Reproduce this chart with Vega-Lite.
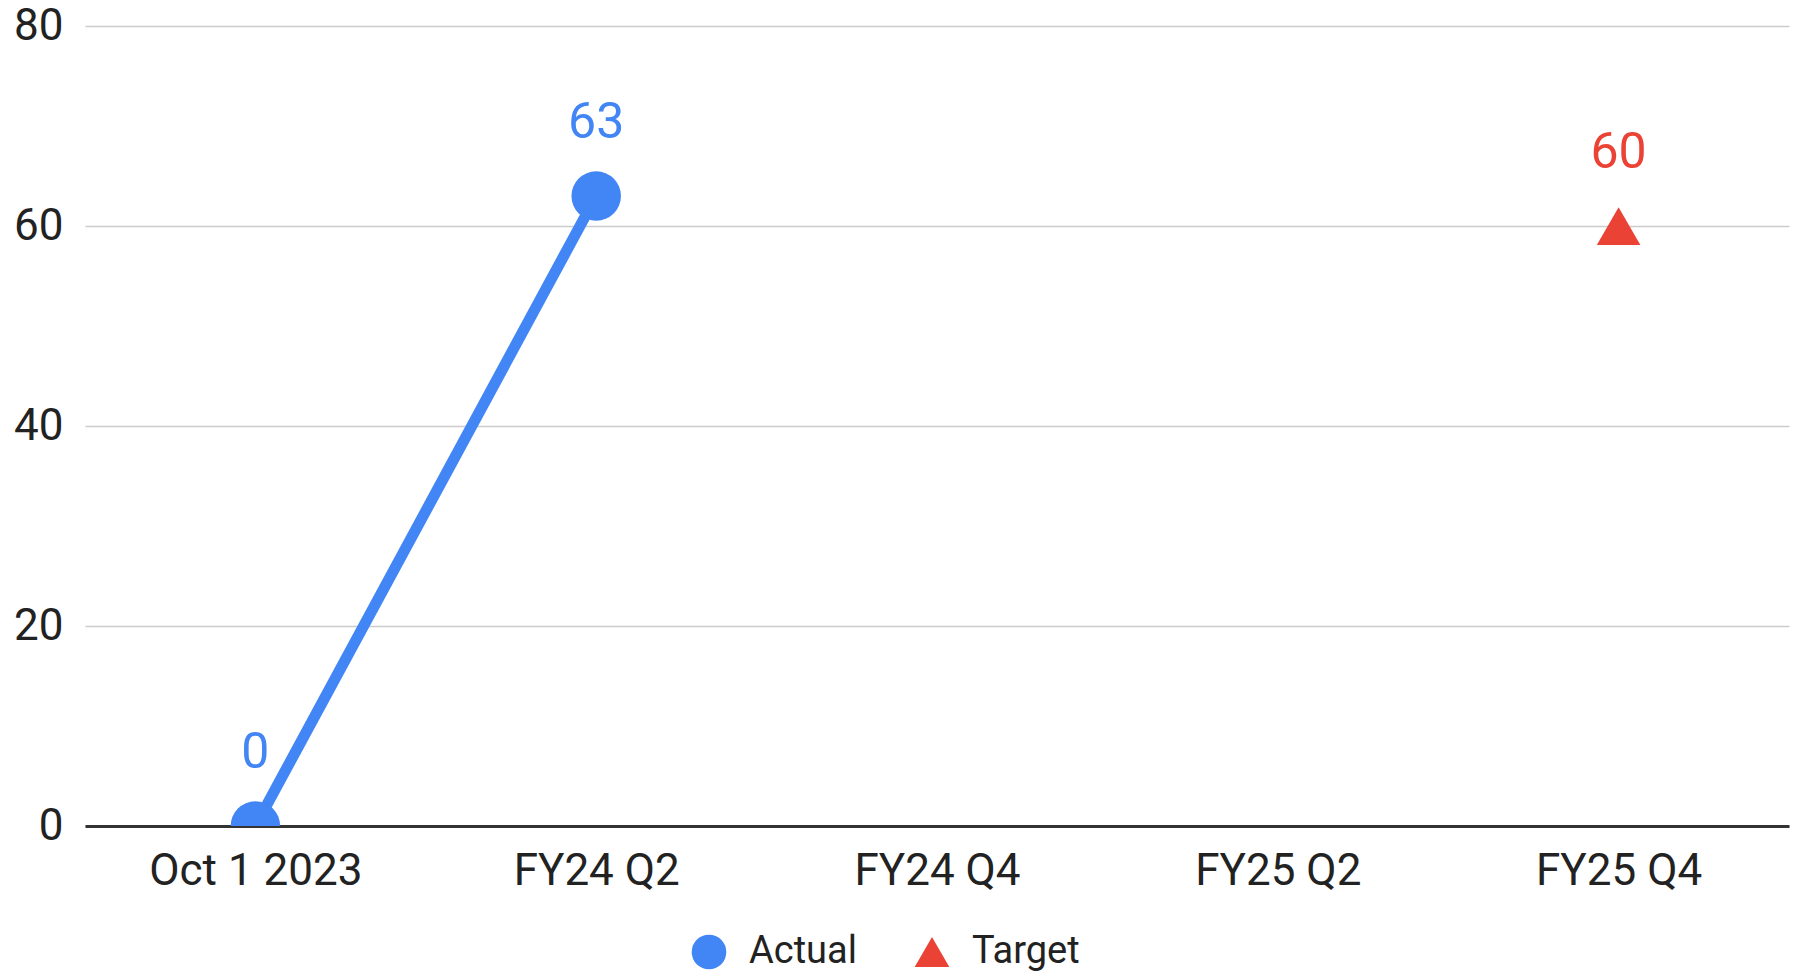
{
  "$schema": "https://vega.github.io/schema/vega-lite/v6.json",
  "autosize": "none",
  "width": 1704,
  "height": 800,
  "padding": {"left": 85, "top": 26, "right": 17, "bottom": 147},
  "background": "white",
  "config": {
    "font": "Roboto",
    "view": {"stroke": null},
    "axis": {"labelFont": "Roboto", "labelColor": "#222222", "labelFontSize": 44, "title": null, "labelLimit": 0}
  },
  "data": {
    "values": [
      {"period": "Oct 1 2023", "series": "Actual", "value": 0},
      {"period": "FY24 Q2", "series": "Actual", "value": 63},
      {"period": "FY25 Q4", "series": "Target", "value": 60}
    ]
  },
  "encoding": {
    "x": {
      "field": "period",
      "type": "ordinal",
      "sort": null,
      "scale": {"domain": ["Oct 1 2023", "FY24 Q2", "FY24 Q4", "FY25 Q2", "FY25 Q4"], "paddingOuter": 0.5, "paddingInner": 0},
      "axis": {"labelAngle": 0, "ticks": false, "domain": true, "domainColor": "#333333", "domainWidth": 3, "labelPadding": 23, "grid": false}
    },
    "y": {
      "field": "value",
      "type": "quantitative",
      "scale": {"domain": [0, 80], "nice": false},
      "axis": {"values": [0, 20, 40, 60, 80], "ticks": false, "domain": false, "gridColor": "#cccccc", "gridWidth": 1.5, "labelPadding": 22}
    },
    "color": {
      "field": "series",
      "type": "nominal",
      "scale": {"domain": ["Actual", "Target"], "range": ["#4285F4", "#EA4335"]},
      "legend": {
        "title": null,
        "orient": "none",
        "direction": "horizontal",
        "legendX": 605,
        "legendY": 907,
        "labelFont": "Roboto",
        "labelFontSize": 38,
        "labelColor": "#222222",
        "symbolSize": 1200,
        "labelOffset": 21,
        "columnPadding": 56
      }
    }
  },
  "layer": [
    {
      "transform": [{"filter": "datum.series === 'Actual'"}],
      "mark": {"type": "line", "color": "#4285F4", "strokeWidth": 11, "clip": true},
      "encoding": {"color": {"value": "#4285F4"}}
    },
    {
      "transform": [{"filter": "datum.series === 'Actual'"}],
      "mark": {"type": "point", "filled": true, "opacity": 1, "clip": true, "size": 2450},
      "encoding": {
        "shape": {
          "field": "series",
          "type": "nominal",
          "scale": {"domain": ["Actual", "Target"], "range": ["circle", "triangle-up"]}
        }
      }
    },
    {
      "transform": [{"filter": "datum.series === 'Target'"}],
      "mark": {"type": "point", "filled": true, "opacity": 1, "clip": true, "size": 1900},
      "encoding": {
        "shape": {
          "field": "series",
          "type": "nominal",
          "scale": {"domain": ["Actual", "Target"], "range": ["circle", "triangle-up"]}
        }
      }
    },
    {
      "mark": {"type": "text", "dy": -73, "fontSize": 50, "font": "Roboto", "baseline": "middle"},
      "encoding": {
        "text": {"field": "value", "type": "quantitative"}
      }
    }
  ]
}
